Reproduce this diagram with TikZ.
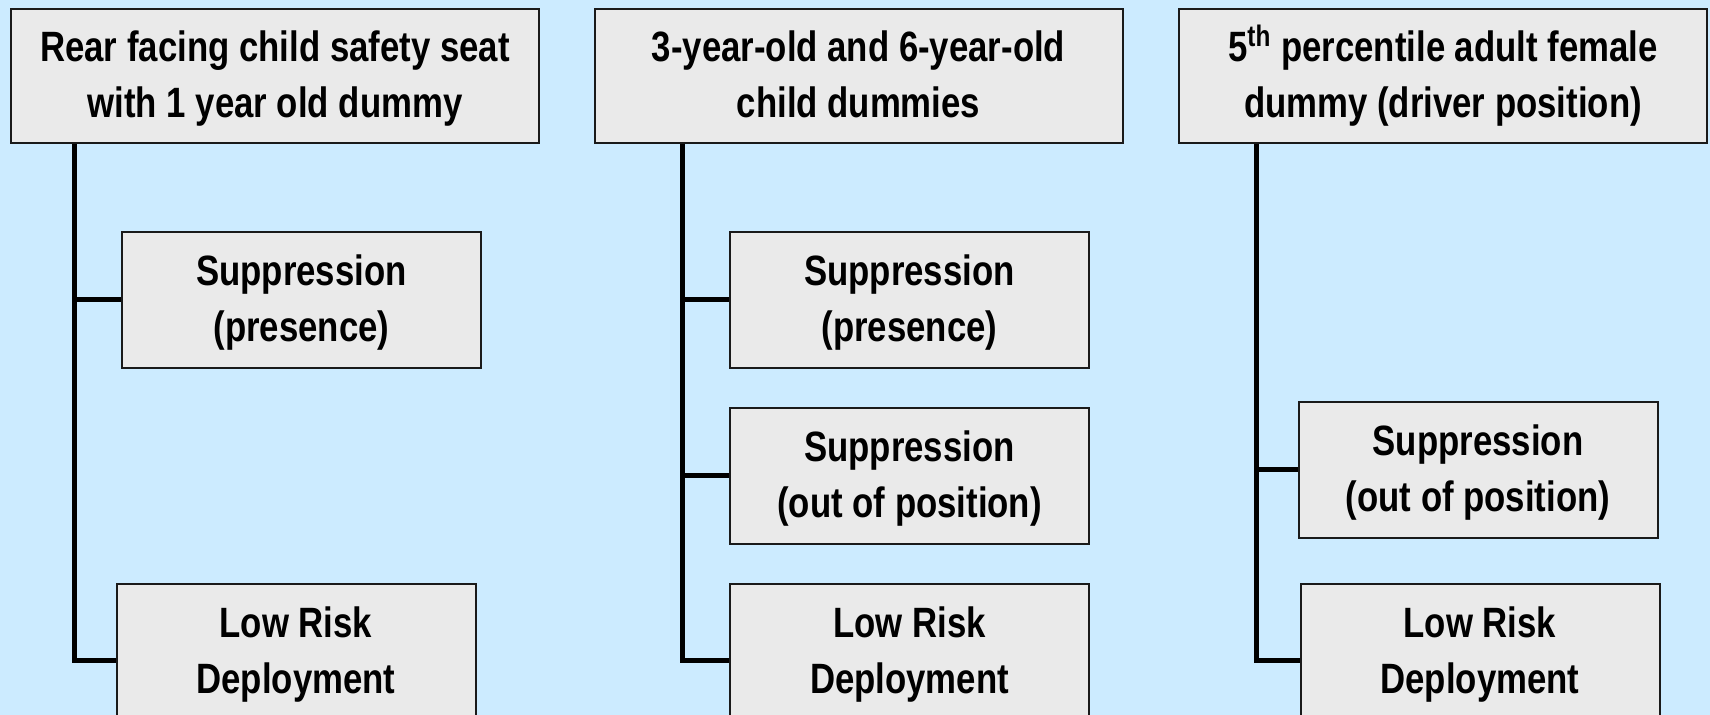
\documentclass[tikz,border=0pt]{standalone}
\usepackage{fontspec}
\setmainfont{Liberation Sans}[FakeStretch=0.82]
\definecolor{bgBlue}{HTML}{CCEBFF}
\definecolor{boxFill}{HTML}{EAEAEA}
\definecolor{boxLine}{HTML}{1A1A1A}
\usetikzlibrary{positioning}
\begin{document}
\begin{tikzpicture}[x=0.5pt,y=-0.5pt, head/.style={draw=boxLine,fill=boxFill,line width=1pt,align=center,minimum width=264pt,minimum height=67pt,inner sep=1pt,font=\bfseries\fontsize{21.2}{28}\selectfont,text height=43.5pt,text depth=1.5pt}, sub/.style={head,minimum width=179.5pt,minimum height=68pt}, trunk/.style={line width=2.5pt}]
\fill[bgBlue] (0,0) rectangle (1710,715);
\clip (0,0) rectangle (1710,715);
% top row
\node[head] (rear) at (275,76) {Rear facing child safety seat\\with 1 year old dummy};
\node[head] (kids) at (858.5,76) {3-year-old and 6-year-old\\child dummies};
\node[head] (fem) at (1443,76) {5\textsuperscript{th} percentile adult female\\dummy (driver position)};
% left column
\node[sub] (rearSup) at (301.5,300) {Suppression\\(presence)};
\node[sub] (rearLow) at (296,652) {Low Risk\\Deployment};
% middle column
\node[sub] (kidsSup) at (909.5,300) {Suppression\\(presence)};
\node[sub] (kidsOop) at (909.5,476) {Suppression\\(out of position)};
\node[sub] (kidsLow) at (909.5,652) {Low Risk\\Deployment};
% right column
\node[sub] (femOop) at (1478,470) {Suppression\\(out of position)};
\node[sub] (femLow) at (1480,652) {Low Risk\\Deployment};
\draw[trunk] ([xshift=32pt]rear.south west) |- (rearSup.west);
\draw[trunk] ([xshift=32pt]rear.south west) |- ([yshift=-4.5pt]rearLow.west);
\draw[trunk] ([xshift=44.5pt]kids.south west) |- (kidsSup.west);
\draw[trunk] ([xshift=44.5pt]kids.south west) |- (kidsOop.west);
\draw[trunk] ([xshift=44.5pt]kids.south west) |- ([yshift=-4.5pt]kidsLow.west);
\draw[trunk] ([xshift=39pt]fem.south west) |- (femOop.west);
\draw[trunk] ([xshift=39pt]fem.south west) |- ([yshift=-4.5pt]femLow.west);
\end{tikzpicture}
\end{document}
